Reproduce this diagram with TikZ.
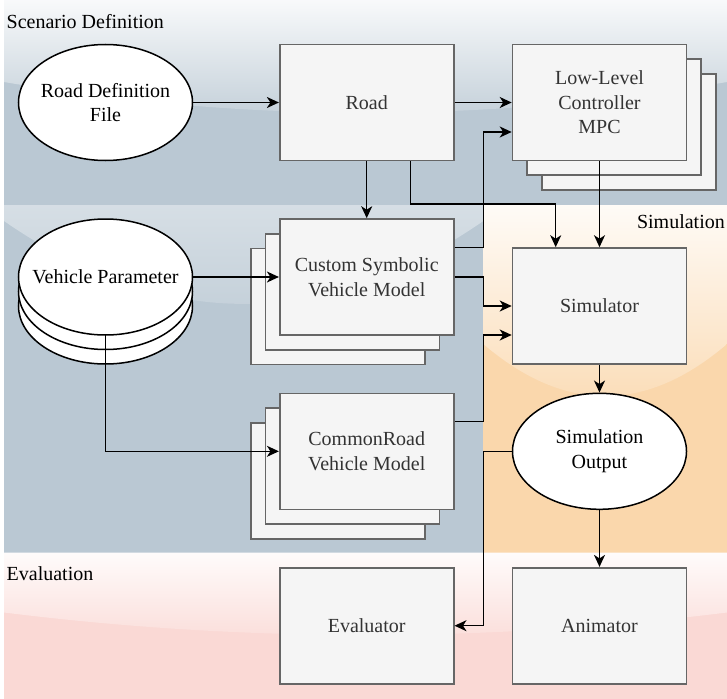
\documentclass[tikz,border=0pt]{standalone}
\usepackage{fontspec}
\setmainfont{Liberation Serif}
\usetikzlibrary{arrows.meta,shapes.geometric,calc}

\definecolor{laneblue}{HTML}{BAC8D3}
\definecolor{laneorange}{HTML}{FAD7AC}
\definecolor{lanepink}{HTML}{FAD9D5}
\definecolor{boxfill}{HTML}{F5F5F5}
\definecolor{boxline}{HTML}{666666}
\definecolor{boxtext}{HTML}{333333}

\newcommand{\diagfont}{\fontsize{20}{24.5}\selectfont}

% lane background: flat colour with a glossy top overlay
% #1 x0, #2 y0, #3 width, #4 height, #5 colour
\newcommand{\lanefill}[5]{%
  \fill[#5] (#1,#2) rectangle ({#1+#3},{#2+#4});
  \begin{scope}
    \clip (#1,#2) -- ({#1+#3},#2) -- ({#1+#3},{#2+0.4*#4})
      .. controls ({#1+2*#3/3},{#2+0.6*#4}) and ({#1+#3/3},{#2+0.6*#4}) ..
      (#1,{#2+0.4*#4}) -- cycle;
    \shade[top color=white!90!#5, bottom color=white!10!#5]
      (#1,#2) rectangle ({#1+#3},{#2+0.6*#4});
  \end{scope}}

\tikzset{
  box/.style={draw=boxline, fill=boxfill, line width=1.6pt,
    minimum width=174pt, minimum height=116pt, inner sep=0pt,
    text=boxtext, align=center, font=\diagfont},
  oval/.style={ellipse, draw=black, fill=white, line width=1.5pt,
    minimum width=174pt, minimum height=116pt, inner sep=0pt},
  ovaltext/.style={font=\diagfont, align=center, text=black},
  lanetext/.style={font=\diagfont, inner sep=0pt, text=black},
  arr/.style={-{Stealth[length=12pt,width=11pt,inset=3.5pt]},
    line width=1.5pt, draw=black}
}

\begin{document}
\begin{tikzpicture}[x=1pt,y=-1pt]
\useasboundingbox (0,0) rectangle (727,698);

% lanes
\begin{scope}
  \clip (0,0) rectangle (727,698);
  \lanefill{4}{0}{479.3}{552.5}{laneblue}
  \lanefill{4}{0}{723}{205}{laneblue}
  \lanefill{483.3}{205}{243.7}{347.5}{laneorange}
  \lanefill{4}{552.5}{723}{150}{lanepink}
\end{scope}

\node[lanetext, anchor=base west] (tscen) at (6.5,28.5) {Scenario Definition};
\node[lanetext, anchor=base east] (tsim) at (725,228) {Simulation};
\node[lanetext, anchor=base west] (teval) at (6.5,580.5) {Evaluation};

% scenario definition
\node[oval, label={[ovaltext]center:Road Definition\\File}] (rdf) at (105.5,102.5) {};
\node[box] (road) at (366.7,102.5) {Road};

\node[box] (llc3) at (629,132) {};
\node[box] (llc2) at (614.2,117.2) {};
\node[box] (llc) at (599.5,102.5) {Low-Level\\Controller\\MPC};

\node[box] (csv3) at (338,306.4) {};
\node[box] (csv2) at (352.4,291.7) {};
\node[box] (csv) at (366.7,277) {Custom Symbolic\\Vehicle Model};

\node[box] (crv3) at (338,480.7) {};
\node[box] (crv2) at (352.4,466) {};
\node[box] (crv) at (366.7,451.3) {CommonRoad\\Vehicle Model};

\node[oval] (vp3) at (105.5,306) {};
\node[oval] (vp2) at (105.5,291.5) {};
\node[oval, label={[ovaltext]center:Vehicle Parameter}] (vp) at (105.5,277) {};

% simulation
\node[box] (sim) at (599.5,306) {Simulator};
\node[oval, label={[ovaltext]center:Simulation\\Output}] (so) at (599.5,451.3) {};

% evaluation
\node[box] (eva) at (366.7,625.7) {Evaluator};
\node[box] (ani) at (599.5,625.7) {Animator};

% junction points
\coordinate (rj1) at (410.7,204);
\coordinate (rj2) at (555.7,204);
\coordinate (cj1) at (483.3,247.7);
\coordinate (cj2) at (483.3,132);
\coordinate (cj3) at (483.3,306);
\coordinate (mj1) at (483.3,421.7);
\coordinate (mj2) at (483.3,335);
\coordinate (vj) at (105.5,451.3);
\coordinate (oj1) at (483.3,451.3);
\coordinate (oj2) at (483.3,625.7);

% connectors
\draw[arr] (rdf.east) -- (road.west);
\draw[arr] (road.east) -- (llc.west);
\draw[arr] (road.south) -- (csv.north);
\draw[arr] (road.south -| rj1) -- (rj1) -- (rj2) -- (rj2 |- sim.north);
\draw[arr] (llc.south) -- (sim.north);
\draw[arr] (csv.east |- cj1) -- (cj1) -- (cj2) -- (llc.west |- cj2);
\draw[arr] (csv.east) -| (cj3) -- (sim.west);
\draw[arr] (crv.east |- mj1) -- (mj1) -- (mj2) -- (sim.west |- mj2);
\draw[arr] (vp.east) -- (csv.west);
\draw[arr] (vp.south) -- (vj) -- (crv.west);
\draw[arr] (sim.south) -- (so.north);
\draw[arr] (so.west) -- (oj1) -- (oj2) -- (eva.east);
\draw[arr] (so.south) -- (ani.north);
\end{tikzpicture}
\end{document}
